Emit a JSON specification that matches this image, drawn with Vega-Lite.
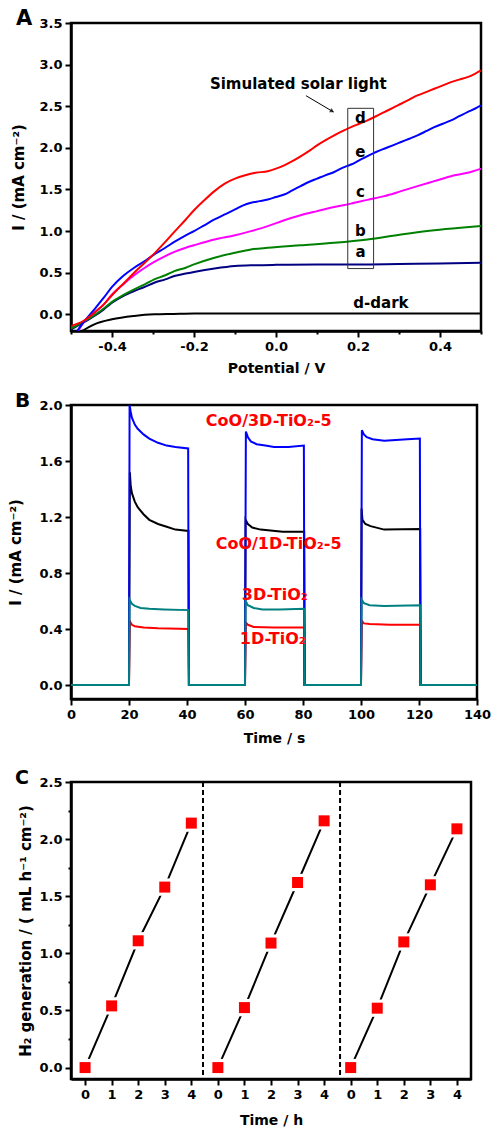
{
"$schema":"https://vega.github.io/schema/vega-lite/v6.json",
"padding":{"left":7,"top":6,"right":5,"bottom":0},
"spacing":12,
"resolve":{"scale":{"color":"independent"}},
"config":{
 "font":"DejaVu Sans",
 "view":{"stroke":"black","strokeWidth":2.5},
 "axis":{"domainColor":"black","domainWidth":2.5,"tickColor":"black","tickWidth":2,"labelFont":"DejaVu Sans","labelFontWeight":"bold","labelFontSize":13,"labelColor":"black","titleFont":"DejaVu Sans","titleFontWeight":"bold","titleFontSize":14,"titleColor":"black","grid":false,"labelPadding":3,"labelOverlap":false,"labelBound":false,"labelFlush":false},
 "title":{"font":"DejaVu Sans","fontWeight":"bold","fontSize":21,"anchor":"start","frame":"bounds","color":"black"}
},
"vconcat":[
{
 "width":410,"height":308,
 "title":{"text":"A","offset":-12,"dx":4},
 "layer":[
  {"data":{"values":[
{"s":"dark","V":-0.473,"I":-0.2},{"s":"dark","V":-0.443,"I":-0.12},{"s":"dark","V":-0.4,"I":-0.06},{"s":"dark","V":-0.346,"I":-0.02},{"s":"dark","V":-0.297,"I":0.0},{"s":"dark","V":-0.25,"I":0.005},{"s":"dark","V":-0.2,"I":0.01},{"s":"dark","V":0.0,"I":0.01},{"s":"dark","V":0.5,"I":0.01},
{"s":"a","V":-0.5,"I":-0.18},{"s":"a","V":-0.47,"I":-0.1},{"s":"a","V":-0.443,"I":-0.02},{"s":"a","V":-0.42,"I":0.06},{"s":"a","V":-0.4,"I":0.14},{"s":"a","V":-0.373,"I":0.22},{"s":"a","V":-0.346,"I":0.28},{"s":"a","V":-0.32,"I":0.33},{"s":"a","V":-0.297,"I":0.38},{"s":"a","V":-0.27,"I":0.42},{"s":"a","V":-0.248,"I":0.46},{"s":"a","V":-0.22,"I":0.49},{"s":"a","V":-0.2,"I":0.51},{"s":"a","V":-0.15,"I":0.55},{"s":"a","V":-0.1,"I":0.58},{"s":"a","V":-0.05,"I":0.59},{"s":"a","V":0.0,"I":0.595},{"s":"a","V":0.1,"I":0.6},{"s":"a","V":0.2,"I":0.6},{"s":"a","V":0.3,"I":0.605},{"s":"a","V":0.4,"I":0.61},{"s":"a","V":0.5,"I":0.62},
{"s":"b","V":-0.5,"I":-0.17},{"s":"b","V":-0.47,"I":-0.09},{"s":"b","V":-0.443,"I":-0.01},{"s":"b","V":-0.42,"I":0.07},{"s":"b","V":-0.4,"I":0.15},{"s":"b","V":-0.373,"I":0.23},{"s":"b","V":-0.346,"I":0.3},{"s":"b","V":-0.32,"I":0.36},{"s":"b","V":-0.297,"I":0.42},{"s":"b","V":-0.27,"I":0.47},{"s":"b","V":-0.248,"I":0.52},{"s":"b","V":-0.22,"I":0.56},{"s":"b","V":-0.2,"I":0.6},{"s":"b","V":-0.15,"I":0.68},{"s":"b","V":-0.1,"I":0.74},{"s":"b","V":-0.061,"I":0.78},{"s":"b","V":-0.02,"I":0.8},{"s":"b","V":0.06,"I":0.83},{"s":"b","V":0.142,"I":0.86},{"s":"b","V":0.223,"I":0.9},{"s":"b","V":0.305,"I":0.96},{"s":"b","V":0.386,"I":1.01},{"s":"b","V":0.45,"I":1.04},{"s":"b","V":0.5,"I":1.06},
{"s":"c","V":-0.483,"I":-0.2},{"s":"c","V":-0.467,"I":-0.08},{"s":"c","V":-0.443,"I":0.02},{"s":"c","V":-0.42,"I":0.12},{"s":"c","V":-0.4,"I":0.24},{"s":"c","V":-0.373,"I":0.36},{"s":"c","V":-0.346,"I":0.47},{"s":"c","V":-0.32,"I":0.56},{"s":"c","V":-0.297,"I":0.63},{"s":"c","V":-0.27,"I":0.7},{"s":"c","V":-0.248,"I":0.75},{"s":"c","V":-0.22,"I":0.8},{"s":"c","V":-0.2,"I":0.83},{"s":"c","V":-0.15,"I":0.9},{"s":"c","V":-0.1,"I":0.95},{"s":"c","V":-0.061,"I":1.0},{"s":"c","V":-0.02,"I":1.06},{"s":"c","V":0.02,"I":1.13},{"s":"c","V":0.06,"I":1.19},{"s":"c","V":0.1,"I":1.24},{"s":"c","V":0.142,"I":1.29},{"s":"c","V":0.183,"I":1.33},{"s":"c","V":0.223,"I":1.375},{"s":"c","V":0.264,"I":1.42},{"s":"c","V":0.305,"I":1.48},{"s":"c","V":0.345,"I":1.54},{"s":"c","V":0.386,"I":1.6},{"s":"c","V":0.427,"I":1.66},{"s":"c","V":0.467,"I":1.7},{"s":"c","V":0.5,"I":1.75},
{"s":"e","V":-0.485,"I":-0.2},{"s":"e","V":-0.47,"I":-0.1},{"s":"e","V":-0.443,"I":0.06},{"s":"e","V":-0.42,"I":0.2},{"s":"e","V":-0.4,"I":0.33},{"s":"e","V":-0.373,"I":0.46},{"s":"e","V":-0.346,"I":0.56},{"s":"e","V":-0.32,"I":0.64},{"s":"e","V":-0.297,"I":0.72},{"s":"e","V":-0.27,"I":0.8},{"s":"e","V":-0.248,"I":0.87},{"s":"e","V":-0.22,"I":0.95},{"s":"e","V":-0.2,"I":1.0},{"s":"e","V":-0.175,"I":1.07},{"s":"e","V":-0.15,"I":1.14},{"s":"e","V":-0.125,"I":1.2},{"s":"e","V":-0.1,"I":1.26},{"s":"e","V":-0.08,"I":1.31},{"s":"e","V":-0.061,"I":1.34},{"s":"e","V":-0.04,"I":1.36},{"s":"e","V":-0.02,"I":1.38},{"s":"e","V":0.0,"I":1.41},{"s":"e","V":0.02,"I":1.44},{"s":"e","V":0.04,"I":1.49},{"s":"e","V":0.06,"I":1.54},{"s":"e","V":0.08,"I":1.59},{"s":"e","V":0.1,"I":1.63},{"s":"e","V":0.12,"I":1.67},{"s":"e","V":0.142,"I":1.71},{"s":"e","V":0.162,"I":1.76},{"s":"e","V":0.183,"I":1.8},{"s":"e","V":0.203,"I":1.85},{"s":"e","V":0.223,"I":1.9},{"s":"e","V":0.244,"I":1.95},{"s":"e","V":0.264,"I":1.99},{"s":"e","V":0.285,"I":2.03},{"s":"e","V":0.305,"I":2.07},{"s":"e","V":0.325,"I":2.11},{"s":"e","V":0.345,"I":2.15},{"s":"e","V":0.366,"I":2.2},{"s":"e","V":0.386,"I":2.25},{"s":"e","V":0.407,"I":2.29},{"s":"e","V":0.427,"I":2.33},{"s":"e","V":0.447,"I":2.38},{"s":"e","V":0.467,"I":2.43},{"s":"e","V":0.485,"I":2.47},{"s":"e","V":0.5,"I":2.51},
{"s":"d","V":-0.5,"I":-0.14},{"s":"d","V":-0.47,"I":-0.08},{"s":"d","V":-0.443,"I":0.02},{"s":"d","V":-0.42,"I":0.12},{"s":"d","V":-0.4,"I":0.23},{"s":"d","V":-0.37,"I":0.38},{"s":"d","V":-0.346,"I":0.5},{"s":"d","V":-0.32,"I":0.62},{"s":"d","V":-0.297,"I":0.73},{"s":"d","V":-0.27,"I":0.87},{"s":"d","V":-0.248,"I":0.99},{"s":"d","V":-0.22,"I":1.14},{"s":"d","V":-0.2,"I":1.25},{"s":"d","V":-0.175,"I":1.37},{"s":"d","V":-0.15,"I":1.48},{"s":"d","V":-0.125,"I":1.57},{"s":"d","V":-0.1,"I":1.63},{"s":"d","V":-0.075,"I":1.67},{"s":"d","V":-0.05,"I":1.7},{"s":"d","V":-0.02,"I":1.72},{"s":"d","V":0.0,"I":1.75},{"s":"d","V":0.02,"I":1.79},{"s":"d","V":0.04,"I":1.84},{"s":"d","V":0.061,"I":1.9},{"s":"d","V":0.08,"I":1.96},{"s":"d","V":0.1,"I":2.03},{"s":"d","V":0.12,"I":2.09},{"s":"d","V":0.142,"I":2.15},{"s":"d","V":0.162,"I":2.2},{"s":"d","V":0.183,"I":2.25},{"s":"d","V":0.203,"I":2.29},{"s":"d","V":0.223,"I":2.33},{"s":"d","V":0.244,"I":2.38},{"s":"d","V":0.264,"I":2.43},{"s":"d","V":0.285,"I":2.48},{"s":"d","V":0.305,"I":2.53},{"s":"d","V":0.325,"I":2.58},{"s":"d","V":0.345,"I":2.63},{"s":"d","V":0.366,"I":2.67},{"s":"d","V":0.386,"I":2.71},{"s":"d","V":0.407,"I":2.75},{"s":"d","V":0.427,"I":2.79},{"s":"d","V":0.447,"I":2.82},{"s":"d","V":0.467,"I":2.85},{"s":"d","V":0.485,"I":2.89},{"s":"d","V":0.5,"I":2.93}
  ]},
  "mark":{"type":"line","strokeWidth":2,"clip":true,"interpolate":"monotone"},
  "encoding":{
   "x":{"field":"V","type":"quantitative","scale":{"domain":[-0.5,0.5],"nice":false,"zero":false},
     "axis":{"title":"Potential / V","values":[-0.5,-0.4,-0.3,-0.2,-0.1,0,0.1,0.2,0.3,0.4,0.5],"labelExpr":"round(datum.value*10)%2==0 ? replace(format(datum.value,'.1f'),'−','-') : ''","tickSize":{"condition":{"test":"round(datum.value*10)%2==0","value":6},"value":3},"titlePadding":8}},
   "y":{"field":"I","type":"quantitative","scale":{"domain":[-0.2,3.5],"nice":false,"zero":false},
     "axis":{"title":"I / (mA cm⁻²)","titleFontSize":15,"values":[0,0.25,0.5,0.75,1,1.25,1.5,1.75,2,2.25,2.5,2.75,3,3.25,3.5],"labelExpr":"round(datum.value*4)%2==0 ? format(datum.value,'.1f') : ''","tickSize":{"condition":{"test":"round(datum.value*4)%2==0","value":6},"value":3},"titlePadding":12}},
   "color":{"field":"s","type":"nominal","scale":{"domain":["dark","a","b","c","e","d"],"range":["#000000","#000080","#008000","#ff00ff","#0000ff","#ff0000"]},"legend":null}
  }},
  {"data":{"values":[{"V1":0.175,"V2":0.238,"I1":0.55,"I2":2.475}]},
   "mark":{"type":"rect","fillOpacity":0,"stroke":"#333333","strokeWidth":1},
   "encoding":{"x":{"field":"V1","type":"quantitative"},"x2":{"field":"V2"},"y":{"field":"I1","type":"quantitative"},"y2":{"field":"I2"}}},
  {"data":{"values":[{"V1":0.073,"V2":0.14,"I1":2.627,"I2":2.432}]},
   "mark":{"type":"rule","stroke":"black","strokeWidth":1},
   "encoding":{"x":{"field":"V1","type":"quantitative"},"x2":{"field":"V2"},"y":{"field":"I1","type":"quantitative"},"y2":{"field":"I2"}}},
  {"data":{"values":[{"V":0.137,"I":2.44}]},
   "mark":{"type":"point","shape":"triangle-right","filled":true,"color":"black","size":25,"angle":30},
   "encoding":{"x":{"field":"V","type":"quantitative"},"y":{"field":"I","type":"quantitative"}}},
  {"data":{"values":[{"V":0.0544,"I":2.708,"t":"Simulated solar light"},{"V":0.206,"I":2.30,"t":"d"},{"V":0.206,"I":1.886,"t":"e"},{"V":0.206,"I":1.408,"t":"c"},{"V":0.206,"I":0.939,"t":"b"},{"V":0.206,"I":0.686,"t":"a"},{"V":0.256,"I":0.072,"t":"d-dark"}]},
   "mark":{"type":"text","font":"DejaVu Sans","fontWeight":"bold","fontSize":15,"baseline":"alphabetic","align":"center","color":"black"},
   "encoding":{"x":{"field":"V","type":"quantitative"},"y":{"field":"I","type":"quantitative"},"text":{"field":"t"}}}
 ]
},
{
 "spacing":20,
 "resolve":{"scale":{"color":"independent"}},
 "vconcat":[
 {
  "width":406,"height":294,
  "title":{"text":"B","offset":-12,"dx":6,"fontSize":20},
  "layer":[
   {"data":{"values":[
{"s":"1D","t":0,"v":0},{"s":"1D","t":20,"v":0},{"s":"1D","t":20.3,"v":0.455},{"s":"1D","t":21,"v":0.43},{"s":"1D","t":22,"v":0.42},{"s":"1D","t":25,"v":0.41},{"s":"1D","t":30,"v":0.405},{"s":"1D","t":40.5,"v":0.4},{"s":"1D","t":40.7,"v":0},{"s":"1D","t":60,"v":0},{"s":"1D","t":60.3,"v":0.445},{"s":"1D","t":61,"v":0.43},{"s":"1D","t":63,"v":0.415},{"s":"1D","t":70,"v":0.41},{"s":"1D","t":80.4,"v":0.41},{"s":"1D","t":80.6,"v":0},{"s":"1D","t":100,"v":0},{"s":"1D","t":100.3,"v":0.457},{"s":"1D","t":101,"v":0.44},{"s":"1D","t":103,"v":0.435},{"s":"1D","t":110,"v":0.43},{"s":"1D","t":120.4,"v":0.43},{"s":"1D","t":120.6,"v":0},{"s":"1D","t":140,"v":0},
{"s":"Co1D","t":0,"v":0},{"s":"Co1D","t":20,"v":0},{"s":"Co1D","t":20.3,"v":1.52},{"s":"Co1D","t":20.6,"v":1.42},{"s":"Co1D","t":21,"v":1.37},{"s":"Co1D","t":22,"v":1.31},{"s":"Co1D","t":23,"v":1.27},{"s":"Co1D","t":25,"v":1.22},{"s":"Co1D","t":27,"v":1.18},{"s":"Co1D","t":30,"v":1.15},{"s":"Co1D","t":33,"v":1.13},{"s":"Co1D","t":36,"v":1.11},{"s":"Co1D","t":40.5,"v":1.1},{"s":"Co1D","t":40.7,"v":0},{"s":"Co1D","t":60,"v":0},{"s":"Co1D","t":60.2,"v":1.18},{"s":"Co1D","t":61,"v":1.15},{"s":"Co1D","t":62.5,"v":1.125},{"s":"Co1D","t":65.4,"v":1.11},{"s":"Co1D","t":73,"v":1.095},{"s":"Co1D","t":80.4,"v":1.095},{"s":"Co1D","t":80.6,"v":0},{"s":"Co1D","t":100,"v":0},{"s":"Co1D","t":100.2,"v":1.26},{"s":"Co1D","t":100.5,"v":1.18},{"s":"Co1D","t":101.5,"v":1.15},{"s":"Co1D","t":103.3,"v":1.135},{"s":"Co1D","t":108,"v":1.11},{"s":"Co1D","t":120.4,"v":1.115},{"s":"Co1D","t":120.6,"v":0},{"s":"Co1D","t":140,"v":0},
{"s":"Co3D","t":0,"v":0},{"s":"Co3D","t":20,"v":0},{"s":"Co3D","t":20.2,"v":2.0},{"s":"Co3D","t":20.6,"v":1.95},{"s":"Co3D","t":21,"v":1.91},{"s":"Co3D","t":22,"v":1.86},{"s":"Co3D","t":23,"v":1.83},{"s":"Co3D","t":25,"v":1.79},{"s":"Co3D","t":27,"v":1.76},{"s":"Co3D","t":30,"v":1.73},{"s":"Co3D","t":33,"v":1.71},{"s":"Co3D","t":36,"v":1.7},{"s":"Co3D","t":40.4,"v":1.69},{"s":"Co3D","t":40.6,"v":0},{"s":"Co3D","t":60,"v":0},{"s":"Co3D","t":60.3,"v":1.81},{"s":"Co3D","t":61,"v":1.77},{"s":"Co3D","t":62,"v":1.74},{"s":"Co3D","t":64,"v":1.72},{"s":"Co3D","t":67,"v":1.71},{"s":"Co3D","t":70,"v":1.7},{"s":"Co3D","t":75,"v":1.7},{"s":"Co3D","t":80.3,"v":1.71},{"s":"Co3D","t":80.5,"v":0},{"s":"Co3D","t":100,"v":0},{"s":"Co3D","t":100.3,"v":1.82},{"s":"Co3D","t":101,"v":1.79},{"s":"Co3D","t":102,"v":1.77},{"s":"Co3D","t":104,"v":1.755},{"s":"Co3D","t":108,"v":1.745},{"s":"Co3D","t":112,"v":1.75},{"s":"Co3D","t":116,"v":1.755},{"s":"Co3D","t":120.3,"v":1.76},{"s":"Co3D","t":120.5,"v":0},{"s":"Co3D","t":140,"v":0},
{"s":"3D","t":0,"v":0},{"s":"3D","t":20,"v":0},{"s":"3D","t":20.2,"v":0.61},{"s":"3D","t":21,"v":0.58},{"s":"3D","t":22,"v":0.565},{"s":"3D","t":24,"v":0.55},{"s":"3D","t":27,"v":0.545},{"s":"3D","t":32,"v":0.54},{"s":"3D","t":40.5,"v":0.535},{"s":"3D","t":40.7,"v":0},{"s":"3D","t":60,"v":0},{"s":"3D","t":60.2,"v":0.6},{"s":"3D","t":61,"v":0.57},{"s":"3D","t":63,"v":0.55},{"s":"3D","t":66,"v":0.54},{"s":"3D","t":72,"v":0.54},{"s":"3D","t":80.4,"v":0.545},{"s":"3D","t":80.6,"v":0},{"s":"3D","t":100,"v":0},{"s":"3D","t":100.2,"v":0.61},{"s":"3D","t":101,"v":0.585},{"s":"3D","t":103,"v":0.57},{"s":"3D","t":108,"v":0.565},{"s":"3D","t":120.4,"v":0.57},{"s":"3D","t":120.6,"v":0},{"s":"3D","t":140,"v":0}
   ]},
   "mark":{"type":"line","strokeWidth":2,"clip":true},
   "encoding":{
    "x":{"field":"t","type":"quantitative","scale":{"domain":[0,140],"nice":false,"zero":false},
      "axis":{"title":"Time / s","values":[0,10,20,30,40,50,60,70,80,90,100,110,120,130,140],"labelExpr":"datum.value%20==0 ? format(datum.value,'d') : ''","tickSize":{"condition":{"test":"datum.value%20==0","value":6},"value":3},"titlePadding":10}},
    "y":{"field":"v","type":"quantitative","scale":{"domain":[-0.1,2.0],"nice":false,"zero":false},
      "axis":{"title":"I / (mA cm⁻²)","titleFontSize":15,"values":[0,0.2,0.4,0.6,0.8,1.0,1.2,1.4,1.6,1.8,2.0],"labelExpr":"round(datum.value*5)%2==0 ? format(datum.value,'.1f') : ''","tickSize":{"condition":{"test":"round(datum.value*5)%2==0","value":6},"value":3},"titlePadding":15}},
    "color":{"field":"s","type":"nominal","scale":{"domain":["1D","Co1D","Co3D","3D"],"range":["#ff0000","#000000","#0000ff","#008080"]},"legend":null}
   }},
   {"data":{"values":[{"t":68.2,"v":1.85,"l":"CoO/3D-TiO₂-5"},{"t":71.6,"v":0.969,"l":"CoO/1D-TiO₂-5"},{"t":70.3,"v":0.607,"l":"3D-TiO₂"},{"t":69.6,"v":0.295,"l":"1D-TiO₂"}]},
    "mark":{"type":"text","font":"DejaVu Sans","fontWeight":"bold","fontSize":16,"baseline":"alphabetic","align":"center","color":"#ff0000"},
    "encoding":{"x":{"field":"t","type":"quantitative"},"y":{"field":"v","type":"quantitative"},"text":{"field":"l"}}}
  ]
 },
 {
  "width":400,"height":297,
  "title":{"text":"C","offset":-12,"dx":-4,"fontSize":19},
  "encoding":{"x":{"field":"x","type":"quantitative","scale":{"domain":[-0.53,14.53],"nice":false,"zero":false},
      "axis":{"title":"Time / h","values":[0,1,2,3,4,5,6,7,8,9,10,11,12,13,14],"labelExpr":"'' + (datum.value % 5)","tickSize":6,"titlePadding":12,"labelOverlap":false}}},
  "layer":[
   {"data":{"values":[{"x":4.44},{"x":9.6}]},
    "mark":{"type":"rule","stroke":"black","strokeWidth":2,"strokeDash":[5,3]}},
   {"data":{"values":[
{"g":1,"x":0,"h":0},{"g":1,"x":1,"h":0.54},{"g":1,"x":2,"h":1.11},{"g":1,"x":3,"h":1.58},{"g":1,"x":4,"h":2.14},
{"g":2,"x":5,"h":0},{"g":2,"x":6,"h":0.525},{"g":2,"x":7,"h":1.09},{"g":2,"x":8,"h":1.62},{"g":2,"x":9,"h":2.16},
{"g":3,"x":10,"h":0},{"g":3,"x":11,"h":0.52},{"g":3,"x":12,"h":1.1},{"g":3,"x":13,"h":1.6},{"g":3,"x":14,"h":2.09}
   ]},
    "encoding":{"y":{"field":"h","type":"quantitative","scale":{"domain":[-0.1,2.5],"nice":false,"zero":false},
       "axis":{"title":"H₂ generation / ( mL h⁻¹ cm⁻²)","titleFontSize":15,"values":[0,0.25,0.5,0.75,1,1.25,1.5,1.75,2,2.25,2.5],"labelExpr":"round(datum.value*4)%2==0 ? format(datum.value,'.1f') : ''","tickSize":{"condition":{"test":"round(datum.value*4)%2==0","value":6},"value":3},"titlePadding":5}}},
    "layer":[
     {"mark":{"type":"line","color":"black","strokeWidth":2},"encoding":{"detail":{"field":"g"}}},
     {"mark":{"type":"point","shape":"square","filled":true,"color":"white","opacity":1,"size":300}},
     {"mark":{"type":"point","shape":"square","filled":true,"color":"#ff0000","opacity":1,"size":121}}
    ]}
  ]
 }
 ]
}
]
}
